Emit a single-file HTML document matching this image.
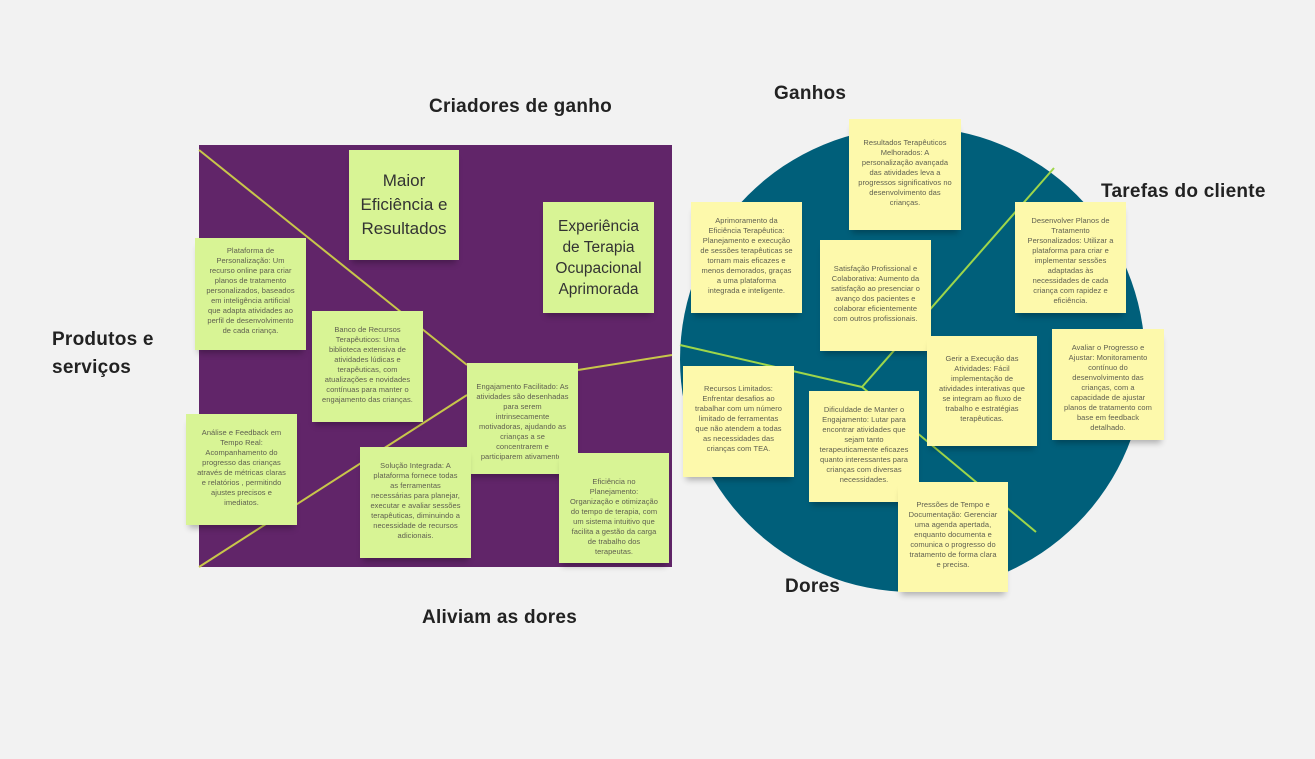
<!DOCTYPE html>
<html><head><meta charset="utf-8"><style>
body{margin:0;width:1315px;height:759px;background:#f2f2f2;position:relative;overflow:hidden;font-family:"Liberation Sans",sans-serif}
.n{position:absolute;box-sizing:border-box;padding:8px 9px;text-align:center;font-size:7.5px;line-height:10px;letter-spacing:0.05px;color:#5f5f50;box-shadow:0 6px 6px -3px rgba(0,0,0,.28);display:flex;align-items:flex-start;justify-content:center}
.g{background:#d8f495}.y{background:#fdf9ab}
.big{font-size:17px;line-height:24px;color:#333;align-items:center;padding:4px;letter-spacing:0}
.h{position:absolute;font-weight:bold;font-size:19px;color:#222;white-space:nowrap;letter-spacing:0.25px}
</style></head><body>
<div style="position:absolute;left:199px;top:145px;width:473px;height:422px;background:#612569"></div>
<div style="position:absolute;left:680px;top:127px;width:465px;height:465px;border-radius:50%;background:#005f7a"></div>
<svg style="position:absolute;left:0;top:0" width="1315" height="759">
<g stroke="#c8c64a" stroke-width="2" fill="none">
<line x1="199" y1="150" x2="467" y2="365"/>
<line x1="199" y1="567" x2="467" y2="395"/>
<line x1="578" y1="370" x2="672" y2="355"/>
</g>
<g stroke="#9ed64a" stroke-width="2" fill="none">
<line x1="680" y1="345" x2="862" y2="387"/>
<line x1="862" y1="387" x2="1054" y2="168"/>
<line x1="862" y1="387" x2="1036" y2="532"/>
</g>
</svg>
<div class="h" style="left:429px;top:96px">Criadores de ganho</div>
<div class="h" style="left:774px;top:83px">Ganhos</div>
<div class="h" style="left:1101px;top:181px">Tarefas do cliente</div>
<div class="h" style="left:52px;top:326px;line-height:28px">Produtos e<br>serviços</div>
<div class="h" style="left:785px;top:576px">Dores</div>
<div class="h" style="left:422px;top:607px">Aliviam as dores</div>

<div class="n g big" style="left:349px;top:150px;width:110px;height:110px;padding:4px 2px">Maior Eficiência e Resultados</div>
<div class="n g big" style="left:543px;top:202px;width:111px;height:111px;font-size:15.5px;line-height:21px;padding:4px 6px">Experiência de Terapia Ocupacional Aprimorada</div>
<div class="n g" style="left:195px;top:238px;width:111px;height:112px">Plataforma de Personalização: Um recurso online para criar planos de tratamento personalizados, baseados em inteligência artificial que adapta atividades ao perfil de desenvolvimento de cada criança.</div>
<div class="n g" style="left:312px;top:311px;width:111px;height:111px;padding-top:14px">Banco de Recursos Terapêuticos: Uma biblioteca extensiva de atividades lúdicas e terapêuticas, com atualizações e novidades contínuas para manter o engajamento das crianças.</div>
<div class="n g" style="left:467px;top:363px;width:111px;height:111px;padding-top:19px">Engajamento Facilitado: As atividades são desenhadas para serem intrinsecamente motivadoras, ajudando as crianças a se concentrarem e participarem ativamente.</div>
<div class="n g" style="left:186px;top:414px;width:111px;height:111px;padding-top:14px">Análise e Feedback em Tempo Real: Acompanhamento do progresso das crianças através de métricas claras e relatórios , permitindo ajustes precisos e imediatos.</div>
<div class="n g" style="left:360px;top:447px;width:111px;height:111px;padding-top:14px">Solução Integrada: A plataforma fornece todas as ferramentas necessárias para planejar, executar e avaliar sessões terapêuticas, diminuindo a necessidade de recursos adicionais.</div>
<div class="n g" style="left:559px;top:453px;width:110px;height:110px;padding-top:24px">Eficiência no Planejamento: Organização e otimização do tempo de terapia, com um sistema intuitivo que facilita a gestão da carga de trabalho dos terapeutas.</div>

<div class="n y" style="left:849px;top:119px;width:112px;height:111px;padding-top:19px">Resultados Terapêuticos Melhorados: A personalização avançada das atividades leva a progressos significativos no desenvolvimento das crianças.</div>
<div class="n y" style="left:691px;top:202px;width:111px;height:111px;padding-top:14px">Aprimoramento da Eficiência Terapêutica: Planejamento e execução de sessões terapêuticas se tornam mais eficazes e menos demorados, graças a uma plataforma integrada e inteligente.</div>
<div class="n y" style="left:820px;top:240px;width:111px;height:111px;padding-top:24px">Satisfação Profissional e Colaborativa: Aumento da satisfação ao presenciar o avanço dos pacientes e colaborar eficientemente com outros profissionais.</div>
<div class="n y" style="left:1015px;top:202px;width:111px;height:111px;padding-top:14px">Desenvolver Planos de Tratamento Personalizados: Utilizar a plataforma para criar e implementar sessões adaptadas às necessidades de cada criança com rapidez e eficiência.</div>
<div class="n y" style="left:927px;top:336px;width:110px;height:110px;padding-top:18px">Gerir a Execução das Atividades: Fácil implementação de atividades interativas que se integram ao fluxo de trabalho e estratégias terapêuticas.</div>
<div class="n y" style="left:1052px;top:329px;width:112px;height:111px;padding-top:14px">Avaliar o Progresso e Ajustar: Monitoramento contínuo do desenvolvimento das crianças, com a capacidade de ajustar planos de tratamento com base em feedback detalhado.</div>
<div class="n y" style="left:683px;top:366px;width:111px;height:111px;padding-top:18px">Recursos Limitados: Enfrentar desafios ao trabalhar com um número limitado de ferramentas que não atendem a todas as necessidades das crianças com TEA.</div>
<div class="n y" style="left:809px;top:391px;width:110px;height:111px;padding-top:14px">Dificuldade de Manter o Engajamento: Lutar para encontrar atividades que sejam tanto terapeuticamente eficazes quanto interessantes para crianças com diversas necessidades.</div>
<div class="n y" style="left:898px;top:482px;width:110px;height:110px;padding-top:18px">Pressões de Tempo e Documentação: Gerenciar uma agenda apertada, enquanto documenta e comunica o progresso do tratamento de forma clara e precisa.</div>
</body></html>
